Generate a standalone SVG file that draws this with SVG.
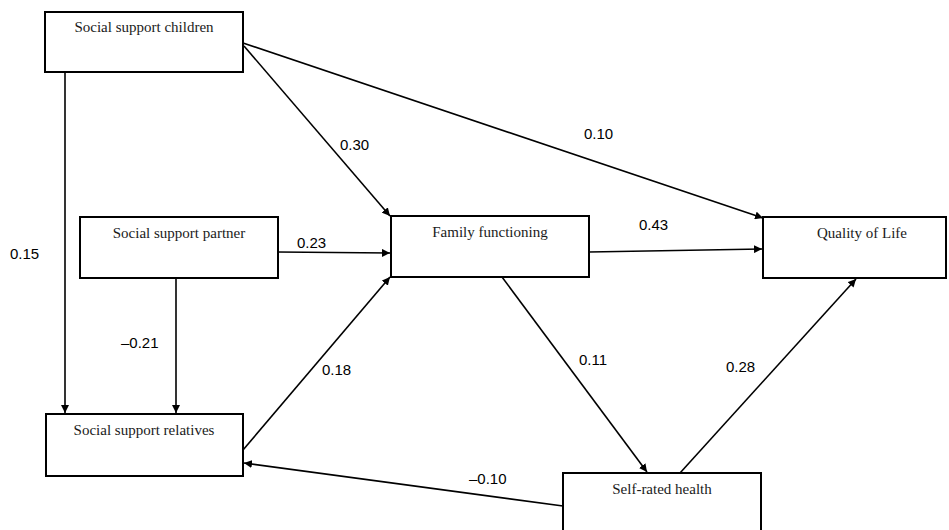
<svg xmlns="http://www.w3.org/2000/svg" width="949" height="530" viewBox="0 0 949 530">
<style>
.box{fill:#fff;stroke:#000;stroke-width:2}
.t{font-family:"Liberation Serif",serif;font-size:15px;fill:#1a1a1a;text-anchor:middle}
.l{font-family:"Liberation Sans",Arial,sans-serif;font-size:15px;fill:#000}
.c{stroke:#000;stroke-width:1.6;fill:none;marker-end:url(#ah)}
</style>
<defs>
<marker id="ah" viewBox="0 0 10 10" refX="10" refY="5" markerWidth="8" markerHeight="8" markerUnits="userSpaceOnUse" orient="auto">
<path d="M0,0 L10,5 L0,10 z" fill="#000"/>
</marker>
</defs>
<rect width="949" height="530" fill="#fff"/>
<g id="connectors">
<line class="c" x1="243" y1="43" x2="763" y2="218"/>
<line class="c" x1="244" y1="46" x2="390" y2="216"/>
<line class="c" x1="65" y1="72" x2="65" y2="413"/>
<line class="c" x1="278" y1="252" x2="390" y2="253"/>
<line class="c" x1="176" y1="278" x2="176" y2="413"/>
<line class="c" x1="243" y1="450" x2="390" y2="277"/>
<line class="c" x1="589" y1="252" x2="762" y2="249"/>
<line class="c" x1="502" y1="277" x2="647" y2="472"/>
<line class="c" x1="680" y1="473" x2="856" y2="279"/>
<line class="c" x1="563" y1="506" x2="244" y2="463"/>
</g>
<g id="n-children"><rect class="box" x="45" y="12" width="198" height="60"/><text class="t" x="144" y="32">Social support children</text></g>
<g id="n-partner"><rect class="box" x="80" y="217" width="198" height="61"/><text class="t" x="179" y="238">Social support partner</text></g>
<g id="n-relatives"><rect class="box" x="46" y="414" width="197" height="62"/><text class="t" x="144" y="435">Social support relatives</text></g>
<g id="n-family"><rect class="box" x="391" y="216" width="198" height="61"/><text class="t" x="490" y="237">Family functioning</text></g>
<g id="n-qol"><rect class="box" x="763" y="217" width="183" height="61"/><text class="t" x="862" y="238">Quality of Life</text></g>
<g id="n-health"><rect class="box" x="563" y="473" width="198" height="62"/><text class="t" x="662" y="494">Self-rated health</text></g>
<g id="labels">
<text class="l" x="340" y="150">0.30</text>
<text class="l" x="584" y="139">0.10</text>
<text class="l" x="10" y="259">0.15</text>
<text class="l" x="297" y="248">0.23</text>
<text class="l" x="639" y="230">0.43</text>
<text class="l" x="121" y="348">–0.21</text>
<text class="l" x="322" y="375">0.18</text>
<text class="l" x="579" y="365">0.11</text>
<text class="l" x="726" y="372">0.28</text>
<text class="l" x="469" y="484">–0.10</text>
</g>
</svg>
